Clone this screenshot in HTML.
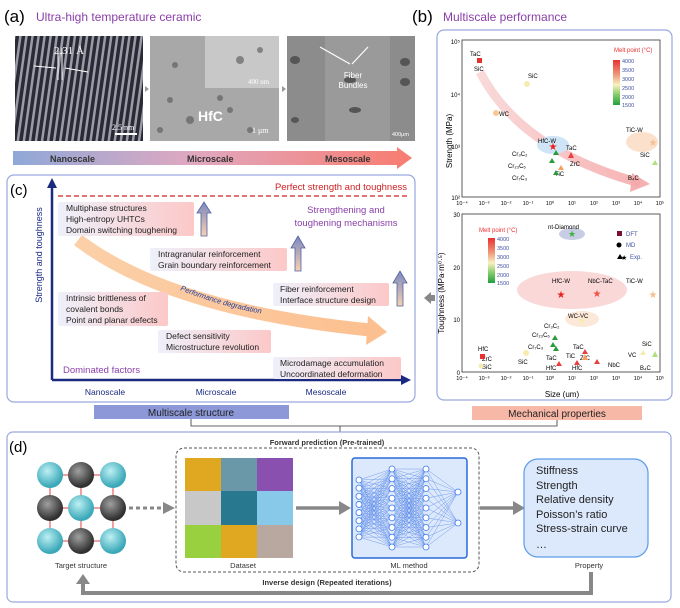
<!DOCTYPE html>
<html><head><meta charset="utf-8"><style>
body{margin:0;background:#fff;}
svg{display:block;font-family:"Liberation Sans",sans-serif;}
</style></head><body>
<svg id="s" width="680" height="608" viewBox="0 0 680 608" xmlns="http://www.w3.org/2000/svg">
<defs>
<linearGradient id="scal" x1="0" x2="1"><stop offset="0" stop-color="#8fa8d8"/><stop offset="0.45" stop-color="#e0a8c0"/><stop offset="1" stop-color="#f87c70"/></linearGradient>
<linearGradient id="orng" x1="0" x2="1"><stop offset="0" stop-color="#fbd0a8"/><stop offset="1" stop-color="#fcc090"/></linearGradient>
<linearGradient id="pinkarr" x1="0" x2="1"><stop offset="0" stop-color="#f8d0d0"/><stop offset="1" stop-color="#f4a0a0"/></linearGradient>
<linearGradient id="box" x1="0" x2="1"><stop offset="0" stop-color="#eef0fa"/><stop offset="1" stop-color="#fcc8c8"/></linearGradient>
<linearGradient id="uparr" x1="0" x2="0" y1="0" y2="1"><stop offset="0" stop-color="#7a88c0"/><stop offset="1" stop-color="#f8d0b0"/></linearGradient>
<linearGradient id="cbar" x1="0" x2="0" y1="0" y2="1"><stop offset="0" stop-color="#e83030"/><stop offset="0.35" stop-color="#f0a080"/><stop offset="0.55" stop-color="#f8f0c0"/><stop offset="0.75" stop-color="#90d070"/><stop offset="1" stop-color="#20a040"/></linearGradient>
<pattern id="stripes" width="6" height="10" patternUnits="userSpaceOnUse" patternTransform="rotate(8)"><rect width="6" height="10" fill="#2a2a35"/><rect width="2.5" height="10" fill="#9a9aa8"/></pattern>
<radialGradient id="cy" cx="0.4" cy="0.35" r="0.6"><stop offset="0" stop-color="#bdf0f4"/><stop offset="1" stop-color="#3aa8b8"/></radialGradient>
<radialGradient id="gy" cx="0.4" cy="0.35" r="0.6"><stop offset="0" stop-color="#a0a0a0"/><stop offset="1" stop-color="#303030"/></radialGradient>
</defs>

<!-- (a) -->
<text x="4" y="22" font-size="17">(a)</text>
<text x="36" y="21" font-size="12" fill="#8a3fa8">Ultra-high temperature ceramic</text>
<rect x="15" y="36" width="128" height="105" fill="url(#stripes)"/>
<line x1="58" y1="48" x2="58" y2="80" stroke="#fff"/><line x1="62" y1="48" x2="62" y2="80" stroke="#fff"/>
<text x="54" y="54" font-size="11" fill="#fff" font-family="Liberation Serif">2.31 Å</text>
<line x1="34" y1="66" x2="56" y2="68" stroke="#fff"/><line x1="65" y1="68" x2="88" y2="72" stroke="#fff"/>
<text x="112" y="130" font-size="8" fill="#fff" font-family="Liberation Serif">2.5 nm</text>
<rect x="115" y="133" width="22" height="2" fill="#fff"/>
<rect x="150" y="36" width="129" height="105" fill="#a8a8a8"/>
<rect x="205" y="36" width="74" height="52" fill="#c8c8c8"/>
<g fill="#555" opacity="0.6"><circle cx="170" cy="100" r="3"/><circle cx="190" cy="120" r="4"/><circle cx="220" cy="98" r="3"/><circle cx="250" cy="130" r="3"/><circle cx="160" cy="130" r="3"/><circle cx="240" cy="60" r="4"/><circle cx="260" cy="50" r="3"/><circle cx="230" cy="110" r="3"/><circle cx="175" cy="65" r="3"/></g>
<text x="198" y="121" font-size="14" font-weight="bold" fill="#fff">HfC</text>
<text x="248" y="84" font-size="7" fill="#fff" font-family="Liberation Serif">400 nm</text>
<text x="252" y="133" font-size="8" fill="#fff" font-family="Liberation Serif">1 μm</text>
<rect x="287" y="36" width="128" height="105" fill="#8c8c8c"/>
<rect x="325" y="36" width="65" height="105" fill="#9a9a9a"/>
<g fill="#555"><ellipse cx="295" cy="60" rx="5" ry="4"/><ellipse cx="405" cy="62" rx="5" ry="4"/><ellipse cx="405" cy="82" rx="5" ry="4"/><ellipse cx="350" cy="80" rx="6" ry="3"/><ellipse cx="355" cy="110" rx="6" ry="3"/><ellipse cx="295" cy="120" rx="4" ry="3"/></g>
<line x1="350" y1="64" x2="320" y2="47" stroke="#fff" stroke-width="1.2"/><line x1="352" y1="64" x2="368" y2="47" stroke="#fff" stroke-width="1.2"/>
<text x="353" y="78" font-size="8" fill="#fff" text-anchor="middle">Fiber</text>
<text x="353" y="88" font-size="8" fill="#fff" text-anchor="middle">Bundles</text>
<text x="392" y="136" font-size="5.5" fill="#fff">400μm</text>
<polygon points="145,86 149,89 145,92" fill="#999"/><polygon points="282,86 286,89 282,92" fill="#999"/>
<polygon points="13,151 397,151 397,147 412,158 397,169 397,165 13,165" fill="url(#scal)"/>
<text x="50" y="162" font-size="9" font-weight="bold" fill="#333">Nanoscale</text>
<text x="187" y="162" font-size="9" font-weight="bold" fill="#333">Microscale</text>
<text x="325" y="162" font-size="9" font-weight="bold" fill="#333">Mesoscale</text>

<!-- (b) -->
<text x="412" y="22" font-size="17">(b)</text>
<text x="443" y="21" font-size="12" fill="#8a3fa8">Multiscale performance</text>
<rect x="437" y="30" width="235" height="370" rx="7" fill="none" stroke="#9aa8e0" stroke-width="1.2"/>
<rect x="472" y="406" width="170" height="14" fill="#f8b8a8"/>
<text x="557" y="417" font-size="10" text-anchor="middle" fill="#222">Mechanical properties</text>
<!-- top chart -->
<path d="M480,72 Q520,150 640,183" stroke="url(#pinkarr)" stroke-width="9" fill="none" opacity="0.8"/>
<polygon points="632,173 650,184 630,192" fill="#f4a8a8" opacity="0.9"/>
<ellipse cx="553" cy="145" rx="16" ry="9" fill="#cfe4f6"/>
<ellipse cx="642" cy="142" rx="16" ry="10" fill="#fbe0cc"/>
<rect x="462" y="40" width="198" height="157" fill="none" stroke="#333" stroke-width="0.8"/>
<text x="452" y="141" font-size="8" transform="rotate(-90 452 141)" text-anchor="middle">Strength (MPa)</text>
<g font-size="6" text-anchor="end"><text x="460" y="44">10⁵</text><text x="460" y="97">10⁴</text><text x="460" y="149">10³</text><text x="460" y="200">10²</text></g>
<g font-size="5.5" text-anchor="middle" id="xt1"></g>
<rect x="477" y="58" width="5" height="5" fill="#e83030"/>
<g font-size="6"><text x="470" y="56">TaC</text><text x="474" y="71">SiC</text><text x="528" y="78">SiC</text><text x="499" y="116">WC</text><text x="538" y="143">HfC-W</text><text x="566" y="150">TaC</text><text x="570" y="166">ZrC</text><text x="555" y="176">TiC</text><text x="512" y="156">Cr₃C₂</text><text x="508" y="168">Cr₂₃C₆</text><text x="512" y="180">Cr₇C₃</text><text x="626" y="132">TiC-W</text><text x="640" y="157">SiC</text><text x="628" y="180">B₄C</text></g>
<circle cx="527" cy="84" r="3" fill="#f6ecb0"/><circle cx="496" cy="113" r="3" fill="#f8c890"/>
<text x="553" y="150" font-size="10" fill="#e82020" text-anchor="middle">★</text>
<g fill="#2a9a3a"><polygon points="556,150 559,155 553,155"/><polygon points="552,158 555,163 549,163"/><polygon points="556,170 559,175 553,175"/></g>
<polygon points="571,152 574,158 568,158" fill="#e84040"/><polygon points="561,165 564,170 558,170" fill="#f8a060"/>
<text x="653" y="146" font-size="10" fill="#f8c090" text-anchor="middle">★</text>
<polygon points="655,160 658,165 652,165" fill="#b0e080"/>
<text x="614" y="52" font-size="6" fill="#e83030">Melt point (°C)</text>
<rect x="613" y="60" width="7" height="45" fill="url(#cbar)"/>
<g font-size="5.5" fill="#4050a0"><text x="622" y="63">4000</text><text x="622" y="72">3500</text><text x="622" y="81">3000</text><text x="622" y="90">2500</text><text x="622" y="99">2000</text><text x="622" y="107">1500</text></g>
<!-- bottom chart -->
<ellipse cx="572" cy="290" rx="55" ry="19" fill="#fad8d8"/>
<ellipse cx="582" cy="319" rx="17" ry="8" fill="#fce8d8"/>
<ellipse cx="572" cy="234" rx="13" ry="6" fill="#c8cce4"/>
<rect x="462" y="214" width="198" height="158" fill="none" stroke="#333" stroke-width="0.8"/>
<text x="444" y="293" font-size="8" transform="rotate(-90 444 293)" text-anchor="middle">Toughness (MPa·m⁰·⁵)</text>
<g font-size="6" text-anchor="end"><text x="460" y="217">30</text><text x="460" y="270">20</text><text x="460" y="322">10</text><text x="460" y="375">0</text></g>
<g font-size="5.5" text-anchor="middle" id="xt2"></g>
<text x="562" y="397" font-size="8" text-anchor="middle">Size (um)</text>
<text x="572" y="237" font-size="9" fill="#40b040" text-anchor="middle">★</text>
<text x="548" y="229" font-size="6">nt-Diamond</text>
<text x="479" y="232" font-size="6" fill="#e83030">Melt point (°C)</text>
<rect x="488" y="238" width="7" height="45" fill="url(#cbar)"/>
<g font-size="5.5" fill="#4050a0"><text x="497" y="241">4000</text><text x="497" y="250">3500</text><text x="497" y="259">3000</text><text x="497" y="268">2500</text><text x="497" y="277">2000</text><text x="497" y="285">1500</text></g>
<rect x="617" y="231" width="5" height="5" fill="#7a1030"/><text x="626" y="236" font-size="6" fill="#4050a0">DFT</text>
<circle cx="619" cy="245" r="2.5"/><text x="626" y="247" font-size="6" fill="#4050a0">MD</text>
<polygon points="617,259 620,254 623,259"/><text x="621" y="260" font-size="7">★</text><text x="630" y="259" font-size="6" fill="#4050a0">Exp.</text>
<g font-size="6"><text x="552" y="283">HfC-W</text><text x="588" y="283">NbC-TaC</text><text x="626" y="283">TiC-W</text><text x="568" y="318">WC-VC</text><text x="544" y="328">Cr₃C₂</text><text x="532" y="337">Cr₂₃C₆</text><text x="528" y="349">Cr₇C₃</text><text x="518" y="364">SiC</text><text x="546" y="360">TaC</text><text x="546" y="370">HfC</text><text x="573" y="349">TaC</text><text x="566" y="358">TiC</text><text x="580" y="360">ZrC</text><text x="572" y="370">HfC</text><text x="608" y="367">NbC</text><text x="478" y="351">HfC</text><text x="482" y="361">ZrC</text><text x="482" y="369">SiC</text><text x="642" y="346">SiC</text><text x="628" y="357">VC</text><text x="640" y="370">B₄C</text></g>
<text x="561" y="298" font-size="10" fill="#e82020" text-anchor="middle">★</text>
<text x="597" y="297" font-size="10" fill="#f05040" text-anchor="middle">★</text>
<text x="653" y="298" font-size="10" fill="#f8c090" text-anchor="middle">★</text>
<text x="582" y="324" font-size="10" fill="#f8ecb0" text-anchor="middle">★</text>
<rect x="480" y="354" width="5" height="5" fill="#e83030"/>
<g fill="#2a9a3a"><polygon points="555,335 558,340 552,340"/><polygon points="553,342 556,347 550,347"/><polygon points="556,346 559,351 553,351"/></g>
<g fill="#e84040"><polygon points="559,361 562,366 556,366"/><polygon points="585,349 588,354 582,354"/><polygon points="597,359 600,364 594,364"/><polygon points="577,360 580,365 574,365"/></g>
<polygon points="585,354 588,360 582,360" fill="#f8a060"/>
<circle cx="526" cy="353" r="3" fill="#f6ecb0"/><circle cx="481" cy="366" r="2.5" fill="#f6ecb0"/>
<polygon points="643,350 646,355 640,355" fill="#f6ecb0"/><polygon points="655,351 658,357 652,357" fill="#b0e080"/>

<!-- connector arrow b->c -->
<polygon points="431,292 424,298 431,304" fill="#888"/><rect x="430" y="295" width="5" height="6" fill="#888"/>

<!-- (c) -->
<rect x="7" y="175" width="408" height="227" rx="7" fill="none" stroke="#9aa8e0" stroke-width="1.2"/>
<text x="10" y="195" font-size="15">(c)</text>
<line x1="52" y1="380" x2="52" y2="186" stroke="#1a2a80" stroke-width="2.5"/><polygon points="47,188 52,178 57,188" fill="#1a2a80"/>
<line x1="52" y1="380" x2="403" y2="380" stroke="#1a2a80" stroke-width="2.5"/><polygon points="401,375 411,380 401,385" fill="#1a2a80"/>
<text x="42" y="255" font-size="9" fill="#1a2a80" transform="rotate(-90 42 255)" text-anchor="middle">Strength and toughness</text>
<line x1="58" y1="196" x2="408" y2="196" stroke="#d02020" stroke-width="1.2" stroke-dasharray="5,3"/>
<text x="407" y="190" font-size="9.5" fill="#d02020" text-anchor="end">Perfect strength and toughness</text>
<path d="M78,240 Q170,310 370,330" stroke="url(#orng)" stroke-width="13" fill="none"/>
<polygon points="368,316 387,332 366,345" fill="#fcc090"/>
<path id="pd" d="M180,290 Q230,310 282,317" fill="none"/>
<text font-size="7.5" fill="#2040a0" font-style="italic"><textPath href="#pd">Performance degradation</textPath></text>
<g font-size="8.5" fill="#222">
<rect x="58" y="202" width="136" height="34" rx="2" fill="url(#box)"/><text x="66" y="211">Multiphase structures</text><text x="66" y="222">High-entropy UHTCs</text><text x="66" y="233">Domain switching toughening</text>
<rect x="150" y="248" width="137" height="23" rx="2" fill="url(#box)"/><text x="158" y="257">Intragranular reinforcement</text><text x="158" y="268">Grain boundary reinforcement</text>
<rect x="273" y="283" width="116" height="23" rx="2" fill="url(#box)"/><text x="280" y="292">Fiber reinforcement</text><text x="280" y="303">Interface structure design</text>
<rect x="58" y="292" width="110" height="34" rx="2" fill="url(#box)"/><text x="66" y="301">Intrinsic brittleness of</text><text x="66" y="312">covalent bonds</text><text x="66" y="323">Point and planar defects</text>
<rect x="158" y="330" width="113" height="23" rx="2" fill="url(#box)"/><text x="166" y="339">Defect sensitivity</text><text x="166" y="350">Microstructure revolution</text>
<rect x="273" y="357" width="128" height="22" rx="2" fill="url(#box)"/><text x="280" y="366">Microdamage accumulation</text><text x="280" y="377">Uncoordinated deformation</text>
</g>
<g fill="url(#uparr)" stroke="#5060a0" stroke-width="0.8">
<polygon points="201,236 201,213 197,213 204,202 211,213 207,213 207,236"/>
<polygon points="295,271 295,248 291,248 298,236 305,248 301,248 301,271"/>
<polygon points="397,306 397,283 393,283 400,271 407,283 403,283 403,306"/>
</g>
<text x="346" y="213" font-size="9.5" fill="#8a3fa8" text-anchor="middle">Strengthening and</text>
<text x="346" y="226" font-size="9.5" fill="#8a3fa8" text-anchor="middle">toughening mechanisms</text>
<text x="63" y="373" font-size="9.5" fill="#8a3fa8">Dominated factors</text>
<g font-size="8.5" fill="#1a2a80" text-anchor="middle"><text x="105" y="395">Nanoscale</text><text x="216" y="395">Microscale</text><text x="326" y="395">Mesoscale</text></g>
<rect x="94" y="405" width="195" height="14" fill="#8c98d8"/>
<text x="191" y="416" font-size="10" text-anchor="middle" fill="#222">Multiscale structure</text>
<!-- bracket -->
<path d="M191,419 V426 H557 V420 M340,426 V432" stroke="#333" stroke-width="0.8" fill="none"/>

<!-- (d) -->
<rect x="7" y="432" width="664" height="170" rx="6" fill="none" stroke="#9aa8e0" stroke-width="1.2"/>
<text x="9" y="452" font-size="15">(d)</text>
<text x="327" y="445" font-size="7.5" font-weight="bold" fill="#333" text-anchor="middle">Forward prediction (Pre-trained)</text>
<rect x="176" y="448" width="303" height="124" rx="8" fill="none" stroke="#555" stroke-dasharray="3,2"/>
<text x="327" y="585" font-size="7.5" font-weight="bold" fill="#333" text-anchor="middle">Inverse design (Repeated iterations)</text>
<path d="M591,572 V593 H83 V582" stroke="#888" stroke-width="4" fill="none"/>
<polygon points="76,584 83,574 90,584" fill="#888"/>
<g stroke="#f0a0a0" stroke-width="2"><line x1="50" y1="475" x2="113" y2="475"/><line x1="50" y1="508" x2="113" y2="508"/><line x1="50" y1="541" x2="113" y2="541"/><line x1="50" y1="475" x2="50" y2="541"/><line x1="81" y1="475" x2="81" y2="541"/><line x1="113" y1="475" x2="113" y2="541"/></g>
<g>
<circle cx="50" cy="475" r="13" fill="url(#cy)"/><circle cx="81" cy="475" r="13" fill="url(#gy)"/><circle cx="113" cy="475" r="13" fill="url(#cy)"/>
<circle cx="50" cy="508" r="13" fill="url(#gy)"/><circle cx="81" cy="508" r="13" fill="url(#cy)"/><circle cx="113" cy="508" r="13" fill="url(#gy)"/>
<circle cx="50" cy="541" r="13" fill="url(#cy)"/><circle cx="81" cy="541" r="13" fill="url(#gy)"/><circle cx="113" cy="541" r="13" fill="url(#cy)"/>
</g>
<text x="81" y="568" font-size="7.5" text-anchor="middle" fill="#333">Target structure</text>
<line x1="129" y1="508" x2="164" y2="508" stroke="#888" stroke-width="3" stroke-dasharray="4,3"/>
<polygon points="163,502 175,508 163,514" fill="#888"/>
<g>
<rect x="185" y="458" width="36" height="33" fill="#e0a820"/><rect x="221" y="458" width="36" height="33" fill="#6a98a8"/><rect x="257" y="458" width="36" height="33" fill="#8a50b0"/>
<rect x="185" y="491" width="36" height="34" fill="#c8c8c8"/><rect x="221" y="491" width="36" height="34" fill="#287890"/><rect x="257" y="491" width="36" height="34" fill="#88c8e8"/>
<rect x="185" y="525" width="36" height="33" fill="#98d040"/><rect x="221" y="525" width="36" height="33" fill="#e0a820"/><rect x="257" y="525" width="36" height="33" fill="#b8a8a0"/>
</g>
<text x="243" y="568" font-size="7.5" text-anchor="middle" fill="#333">Dataset</text>
<line x1="296" y1="508" x2="340" y2="508" stroke="#888" stroke-width="3.5"/><polygon points="339,501 351,508 339,515" fill="#888"/>
<rect x="352" y="458" width="115" height="100" rx="3" fill="#dce8fc" stroke="#2a6ad8" stroke-width="1.5"/>
<g id="nn"></g>
<text x="409" y="568" font-size="7.5" text-anchor="middle" fill="#333">ML method</text>
<line x1="480" y1="508" x2="514" y2="508" stroke="#888" stroke-width="3.5"/><polygon points="513,501 525,508 513,515" fill="#888"/>
<rect x="524" y="459" width="124" height="98" rx="14" fill="#dce8fc" stroke="#5a9ae8" stroke-width="1.2"/>
<g font-size="11" fill="#222"><text x="536" y="474">Stiffness</text><text x="536" y="489">Strength</text><text x="536" y="503">Relative density</text><text x="536" y="518">Poisson’s ratio</text><text x="536" y="532">Stress-strain curve</text><text x="536" y="548">…</text></g>
<text x="589" y="568" font-size="7.5" text-anchor="middle" fill="#333">Property</text>
</svg>
<script>
var NS="http://www.w3.org/2000/svg";
function el(p,t,a,txt){var e=document.createElementNS(NS,t);for(var k in a)e.setAttribute(k,a[k]);if(txt)e.textContent=txt;p.appendChild(e);return e;}
var lbl=["10⁻⁴","10⁻³","10⁻²","10⁻¹","10⁰","10¹","10²","10³","10⁴","10⁵"];
[["xt1",205],["xt2",380]].forEach(function(a){var g=document.getElementById(a[0]);for(var i=0;i<10;i++)el(g,"text",{x:462+i*22,y:a[1]},lbl[i]);});
var g=document.getElementById("nn");
var L=[[359,8,480,537],[392,9,469,547],[426,9,469,547],[458,2,492,523]];
var P=L.map(function(l){var a=[];for(var i=0;i<l[1];i++)a.push([l[0],l[2]+(l[1]>1?i*(l[3]-l[2])/(l[1]-1):0)]);return a;});
for(var k=0;k<3;k++)P[k].forEach(function(p){P[k+1].forEach(function(q){el(g,"line",{x1:p[0],y1:p[1],x2:q[0],y2:q[1],stroke:"#5a8ae8","stroke-width":0.4});});});
P.forEach(function(l){l.forEach(function(p){el(g,"circle",{cx:p[0],cy:p[1],r:3,fill:"#fff",stroke:"#3a7ae8","stroke-width":0.8});});});
</script>
</body></html>
